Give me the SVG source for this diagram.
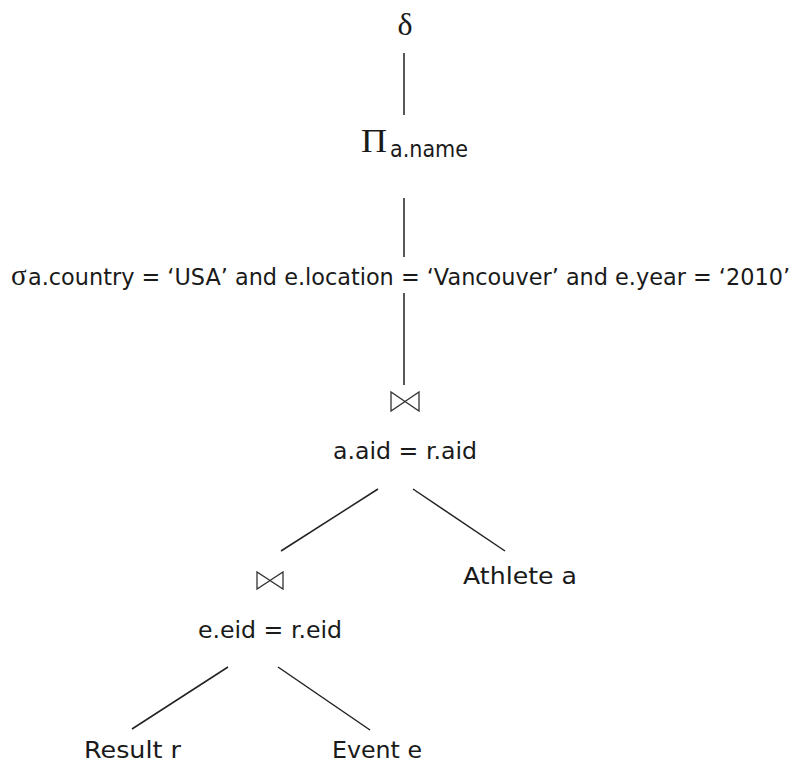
<svg xmlns="http://www.w3.org/2000/svg" width="798" height="768" viewBox="0 0 798 768">
<style>
.t{font-family:"DejaVu Sans","Liberation Sans",sans-serif;font-size:23px;fill:#1a1a1a}
.g{font-family:"Liberation Serif","DejaVu Serif",serif;fill:#1a1a1a}
.e{stroke:#222;stroke-width:1.5;fill:none}
.bt{stroke:#333;stroke-width:1.3;fill:none;stroke-linejoin:miter}
</style>
<rect width="798" height="768" fill="#fff"/>
<g id="connectors">
<line class="e" x1="404" y1="53" x2="404" y2="115"/>
<line class="e" x1="404" y1="198" x2="404" y2="257"/>
<line class="e" x1="404" y1="293" x2="404" y2="385"/>
<line class="e" x1="378" y1="489" x2="281" y2="551"/>
<line class="e" x1="413" y1="489" x2="505" y2="551"/>
<line class="e" x1="228" y1="667" x2="132" y2="729"/>
<line class="e" x1="278" y1="667" x2="370" y2="730"/>
</g>
<g id="delta">
<text class="g" x="405" y="35" font-size="32" text-anchor="middle">δ</text>
</g>
<g id="projection">
<text class="g" x="361" y="152" font-size="33" textLength="26" lengthAdjust="spacingAndGlyphs">Π</text>
<text class="t" x="390" y="157" textLength="78" lengthAdjust="spacingAndGlyphs">a.name</text>
</g>
<g id="selection">
<text class="g" x="11" y="285" font-size="29">σ</text>
<text class="t" x="28" y="285" textLength="762" lengthAdjust="spacingAndGlyphs">a.country = ‘USA’ and e.location = ‘Vancouver’ and e.year = ‘2010’</text>
</g>
<g id="join1">
<path class="bt" d="M391,392 L391,411 L405,401.5 Z M419,392 L419,411 L405,401.5 Z"/>
<text class="t" x="333" y="459" textLength="144" lengthAdjust="spacingAndGlyphs">a.aid = r.aid</text>
</g>
<g id="join2">
<path class="bt" d="M257,572 L257,589 L270,580.5 Z M283,572 L283,589 L270,580.5 Z"/>
<text class="t" x="198" y="638" textLength="144" lengthAdjust="spacingAndGlyphs">e.eid = r.eid</text>
</g>
<g id="athlete">
<text class="t" x="463" y="584" textLength="114" lengthAdjust="spacingAndGlyphs">Athlete a</text>
</g>
<g id="result">
<text class="t" x="84" y="758" textLength="97" lengthAdjust="spacingAndGlyphs">Result r</text>
</g>
<g id="event">
<text class="t" x="332" y="758" textLength="90" lengthAdjust="spacingAndGlyphs">Event e</text>
</g>
</svg>
